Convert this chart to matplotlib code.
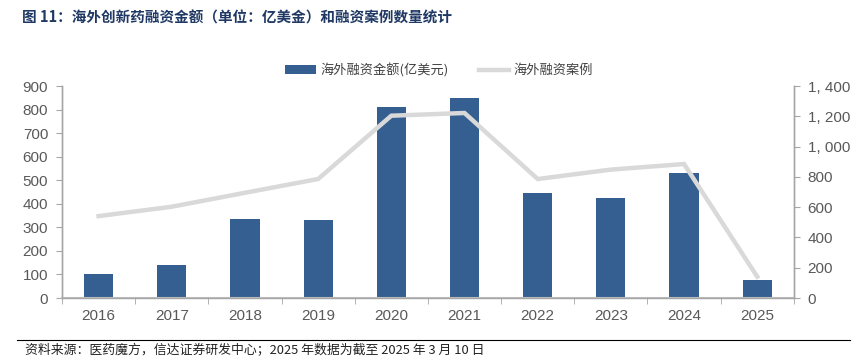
import matplotlib.pyplot as plt
import numpy as np
from matplotlib.ticker import FuncFormatter, FixedLocator

plt.rcParams['font.family'] = ['Liberation Sans Narrow', 'Liberation Sans', 'Noto Sans CJK SC', 'DejaVu Sans']

years = ['2016', '2017', '2018', '2019', '2020', '2021', '2022', '2023', '2024', '2025']
amount = [101, 139, 335, 331, 812, 848, 447, 423, 532, 76]
deals = [541, 603, 695, 786, 1204, 1222, 786, 848, 885, 141]

bar_color = '#365f91'
line_color = '#d9d9d9'
axis_color = '#a6a6a6'
text_color = '#595959'

fig = plt.figure(figsize=(8.65, 3.63), dpi=100)
ax1 = fig.add_axes([0.0717, 0.179, 0.846, 0.584])
x = np.arange(len(years))

b = ax1.bar(x, amount, width=0.4, color=bar_color, label='海外融资金额(亿美元)', zorder=2)
ax1.set_ylim(0, 900)
ax1.set_yticks(range(0, 901, 100))
ax1.set_xlim(-0.5, len(years) - 0.5)
ax1.set_xticks(x)
ax1.set_xticklabels(years)
ax1.xaxis.set_minor_locator(FixedLocator(np.arange(-0.5, len(years), 1)))
ax1.tick_params(axis='x', which='major', length=0, pad=8, labelsize=11, labelcolor=text_color)
ax1.tick_params(axis='x', which='minor', length=4, color=axis_color)
ax1.tick_params(axis='y', length=4, color=axis_color, labelsize=11, labelcolor=text_color, pad=6)

ax2 = ax1.twinx()
l, = ax2.plot(x, deals, color=line_color, linewidth=3.2, label='海外融资案例', solid_joinstyle='miter', zorder=3)
ax2.set_ylim(0, 1400)
ax2.set_yticks(range(0, 1401, 200))
ax2.yaxis.set_major_formatter(FuncFormatter(lambda v, p: f'{int(v):,}'.replace(',', ', ')))
ax2.tick_params(axis='y', length=4, color=axis_color, labelsize=11, labelcolor=text_color, pad=6)

for ax in (ax1, ax2):
    ax.spines['top'].set_visible(False)
    for s in ('left', 'right', 'bottom'):
        ax.spines[s].set_color(axis_color)
        ax.spines[s].set_linewidth(1.0)
ax1.spines['bottom'].set_color('#bfbfbf')
ax1.spines['bottom'].set_linewidth(1.5)

fig.legend([b, l], ['海外融资金额(亿美元)', '海外融资案例'], loc='center', bbox_to_anchor=(0.508, 0.807),
           ncol=2, frameon=False, handlelength=2.3, columnspacing=2.3, handletextpad=0.35,
           prop={'family': ['Noto Sans CJK SC'], 'size': 9.5}, labelcolor='#404040')

fig.text(0.026, 0.953, '图 11：海外创新药融资金额（单位：亿美金）和融资案例数量统计', fontsize=10.5, fontweight='bold',
         color='#1f3864', family=['Noto Sans CJK SC'], va='center')

fig.add_artist(plt.Line2D([0.02, 0.983], [0.063, 0.063], color='#000000', linewidth=0.8))
fig.text(0.029, 0.033, '资料来源：医药魔方，信达证券研发中心；2025 年数据为截至 2025 年 3 月 10 日', fontsize=9.3,
         style='italic', color='#222222', family=['Noto Sans CJK SC'], va='center')

fig.savefig('out.png', dpi=100)
